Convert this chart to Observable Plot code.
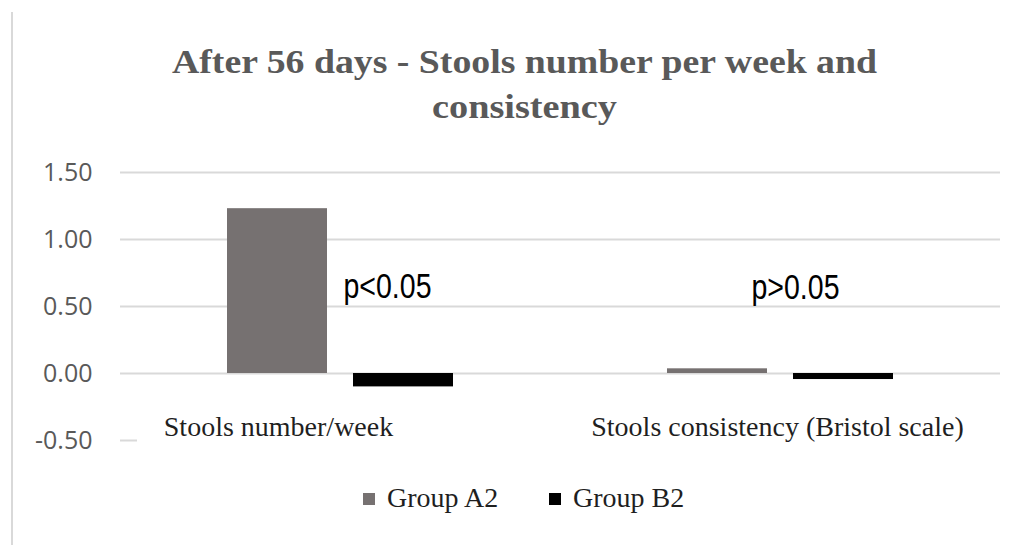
<!DOCTYPE html>
<html><head><meta charset="utf-8">
<script src="https://cdn.jsdelivr.net/npm/d3@7"></script>
<script src="https://cdn.jsdelivr.net/npm/@observablehq/plot@0.6"></script>
<style>
html,body{margin:0;padding:0;background:#fff;}
#chart{position:relative;width:1024px;height:545px;overflow:hidden}
</style></head><body><div id="chart"></div>
<script>
const categories = ["Stools number/week", "Stools consistency (Bristol scale)"];
const groups = ["Group A2", "Group B2"];
const groupA2 = [1.23, 0.035];
const groupB2 = [-0.10, -0.045];
const pValues = ["p<0.05", "p>0.05"];
const yTicks = [-0.5, 0, 0.5, 1, 1.5];
const gridTicks = [0, 0.5, 1, 1.5];
const colors = ["#767171", "#000000"];
const titleLines = ["After 56 days - Stools number per week and", "consistency"];

const data = categories.flatMap((c, i) => [
  {category: c, group: groups[0], value: groupA2[i]},
  {category: c, group: groups[1], value: groupB2[i]}
]);
const pData = categories.map((c, i) => ({category: c, p: pValues[i]}));

const serif = "'Liberation Serif', 'Times New Roman', serif";
const sans = "'Liberation Sans', Arial, sans-serif";

const plot = Plot.plot({
  width: 1024, height: 545,
  marginTop: 172, marginBottom: 105, marginLeft: 120, marginRight: 24,
  style: {fontFamily: "'Open Sans', sans-serif", fontSize: "25px", color: "#595959", background: "#fff"},
  fx: {domain: categories, padding: 0, axis: null},
  x: {domain: groups, paddingInner: 0.206, paddingOuter: 0.849, axis: null},
  y: {domain: [-0.5, 1.5], ticks: yTicks, tickFormat: d => d.toFixed(2), tickSize: 0, tickPadding: 28, label: null},
  color: {domain: groups, range: colors},
  marks: [
    Plot.ruleY(gridTicks, {stroke: "#d9d9d9", strokeWidth: 2}),
    Plot.ruleY([-0.5], {fx: () => categories[0], insetRight: 423, stroke: "#d9d9d9", strokeWidth: 2}),
    Plot.barY(data, {fx: "category", x: "group", y: "value", fill: "group"}),
    Plot.text([pData[0]], {fx: "category", text: "p", frameAnchor: "middle", lineAnchor: "bottom", dx: 47, dy: -9, fontSize: 35, fontFamily: sans, fill: "#000", className: "pval"}),
    Plot.text([pData[1]], {fx: "category", text: "p", frameAnchor: "middle", lineAnchor: "bottom", dx: 15, dy: -8, fontSize: 35, fontFamily: sans, fill: "#000", className: "pval"}),
    Plot.text([categories[0]], {fx: d => d, text: d => d, frameAnchor: "bottom", lineAnchor: "bottom", dx: -62, dy: -5, fontSize: 28, fontFamily: serif, fill: "#1f1f1f"}),
    Plot.text([categories[1]], {fx: d => d, text: d => d, frameAnchor: "bottom", lineAnchor: "bottom", dx: -3, dy: -5, fontSize: 28, fontFamily: serif, fill: "#1f1f1f"})
  ]
});

const svg = d3.select(plot);
svg.selectAll(".pval text").attr("textLength", 88).attr("lengthAdjust", "spacingAndGlyphs");

svg.append("line").attr("x1", 12).attr("x2", 12).attr("y1", 12).attr("y2", 545)
  .attr("stroke", "#d9d9d9").attr("stroke-width", 2);

const title = svg.append("g")
  .attr("font-family", serif).attr("font-weight", "bold")
  .attr("fill", "#595959").attr("font-size", 33).attr("text-anchor", "middle");
title.append("text").attr("x", 524.5).attr("y", 73)
  .attr("textLength", 705).attr("lengthAdjust", "spacingAndGlyphs").text(titleLines[0]);
title.append("text").attr("x", 524.5).attr("y", 118)
  .attr("textLength", 185).attr("lengthAdjust", "spacingAndGlyphs").text(titleLines[1]);

const legendX = [363, 549];
const legend = svg.append("g").attr("font-family", serif).attr("font-size", 28)
  .attr("fill", "#1f1f1f").attr("text-anchor", "start");
groups.forEach((g, i) => {
  legend.append("rect").attr("x", legendX[i]).attr("y", 493).attr("width", 12).attr("height", 12).attr("fill", colors[i]);
  legend.append("text").attr("x", legendX[i] + 24).attr("y", 507).text(g);
});

document.getElementById("chart").appendChild(plot);
</script>
</body></html>
